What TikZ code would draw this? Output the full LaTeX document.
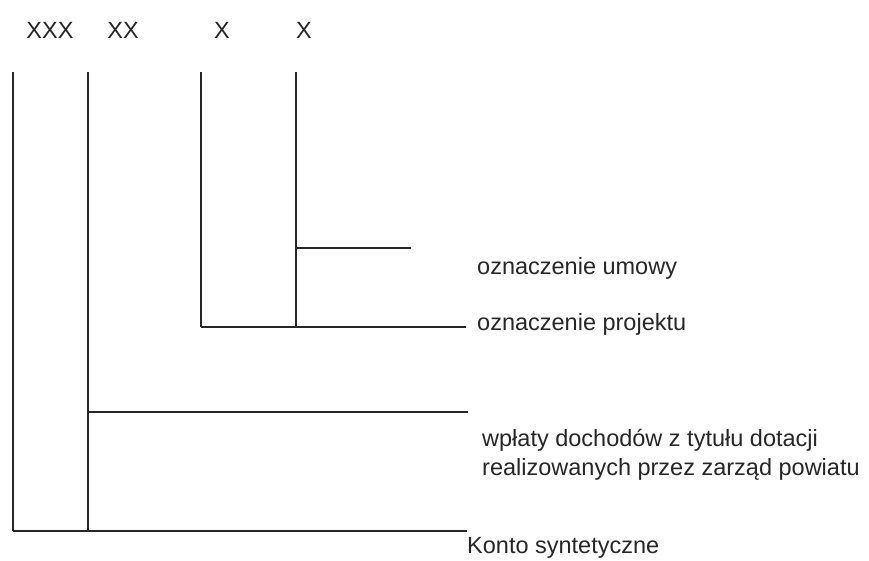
\documentclass[tikz,border=0pt]{standalone}
\usepackage{fontspec}
\setmainfont{Liberation Sans}
\begin{document}
\begin{tikzpicture}[x=1pt,y=-1pt,
  ln/.style={line width=2pt,black!85},
  lbl/.style={inner sep=0pt,anchor=west,font=\fontsize{23.5}{29}\selectfont,text=black!85},
  hdr/.style={inner sep=0pt,font=\fontsize{23.5}{29}\selectfont,text=black!85}]
\useasboundingbox (0,0) rectangle (869,560);
% header labels
\node[hdr] (h1) at (50,30) {XXX};
\node[hdr] (h2) at (123,30) {XX};
\node[hdr] (h3) at (222,30) {X};
\node[hdr] (h4) at (304,30) {X};
% coordinates
\coordinate (t1) at (13,72);
\coordinate (t2) at (88,72);
\coordinate (t3) at (201,72);
\coordinate (t4) at (296,72);
\coordinate (b1) at (13,531);
\coordinate (b2) at (88,531);
\coordinate (b3) at (201,327);
\coordinate (b4) at (296,327);
\coordinate (m2) at (88,412);
\coordinate (m4) at (296,248);
\coordinate (e1) at (467,531);
\coordinate (e2) at (468,412);
\coordinate (e3) at (466,327);
\coordinate (e4) at (411,248);
% lines
\draw[ln] (t1) -- (b1);
\draw[ln] (t2) -- (b2);
\draw[ln] (t3) -- (b3);
\draw[ln] (t4) -- (b4);
\draw[ln] (b1) -- (e1);
\draw[ln] (m2) -- (e2);
\draw[ln] (b3) -- (e3);
\draw[ln] (m4) -- (e4);
% labels
\node[lbl] (l4) at (477,268) {oznaczenie umowy};
\node[lbl] (l3) at (477,324) {oznaczenie projektu};
\node[lbl,align=left] (l2) at (482,455) {wpłaty dochodów z tytułu dotacji\\realizowanych przez zarząd powiatu};
\node[lbl] (l1) at (467,548) {Konto syntetyczne};
\end{tikzpicture}
\end{document}
